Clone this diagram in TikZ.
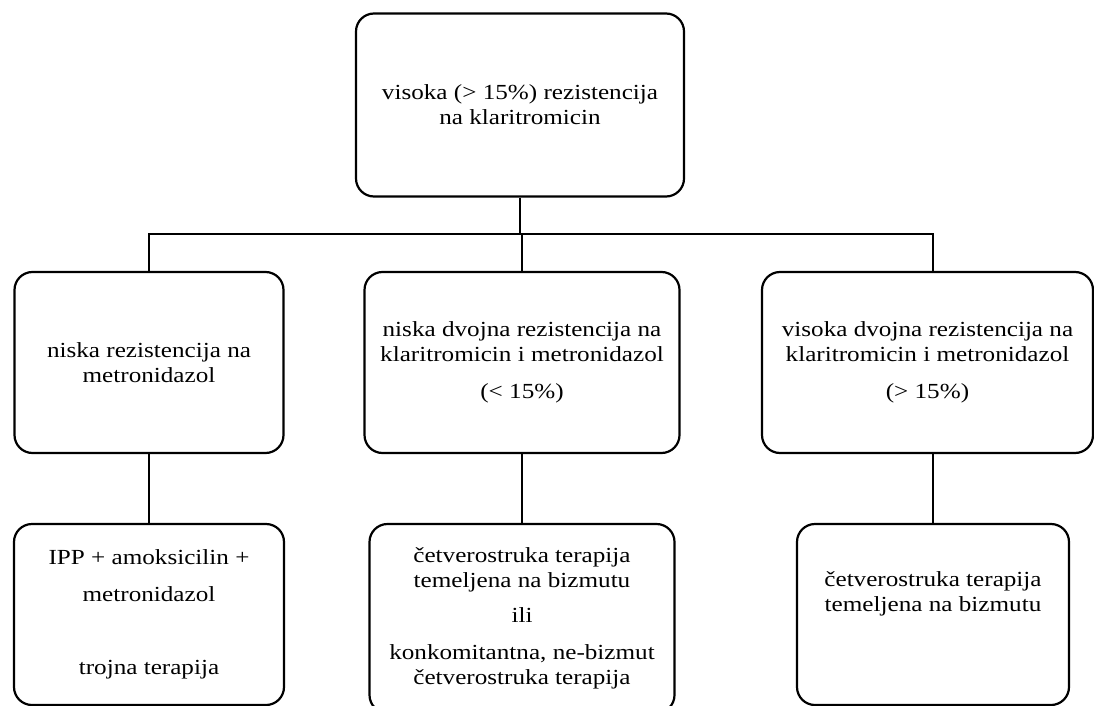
\documentclass[tikz,border=0pt]{standalone}
\usepackage{fontspec}
\setmainfont{Liberation Serif}[FakeStretch=1.17]

\begin{document}
\begin{tikzpicture}[x=1pt,y=-1pt]
\tikzstyle{box} = [rectangle, rounded corners=18pt, draw=black, line width=2.2pt, align=center, inner sep=0pt, font=\fontsize{21.5}{25}\selectfont]
\tikzstyle{link} = [draw=black, line width=2.2pt]

\useasboundingbox (0,0) rectangle (1094,706);

\node(highClari) [box, minimum width=328pt, minimum height=183pt] at (520,105) {visoka (> 15\%) rezistencija\\na klaritromicin};
\node(lowMetro) [box, minimum width=269pt, minimum height=181pt] at (149,362.5) {niska rezistencija na\\metronidazol};
\node(lowDual) [box, minimum width=315pt, minimum height=181pt] at (522,362.5) {niska dvojna rezistencija na\\klaritromicin i metronidazol\\[12pt](< 15\%)};
\node(highDual) [box, minimum width=331pt, minimum height=181pt] at (927.5,362.5) {visoka dvojna rezistencija na\\klaritromicin i metronidazol\\[12pt](> 15\%)};
\node(tripleTherapy) [box, minimum width=270pt, minimum height=181pt] at (149,614.5) {IPP + amoksicilin +\\[12pt]metronidazol\\[48pt]trojna terapija};
\node(bismuthOrConcomitant) [box, minimum width=305pt, minimum height=189pt] at (522,618.5) {četverostruka terapija\\temeljena na bizmutu\\[10pt]ili\\[12pt]konkomitantna, ne-bizmut\\četverostruka terapija};
\node(bismuthQuad) [box, minimum width=272pt, minimum height=181pt] at (933,614.5) {četverostruka terapija\\temeljena na bizmutu\\[20pt]\mbox{}};

\coordinate (bus) at (520,234);
\draw[link] (highClari) -- (bus);
\draw[link] (lowMetro.north) |- (bus) -| (highDual.north -| bismuthQuad);
\draw[link] (lowDual) -- (lowDual |- bus);
\draw[link] (lowMetro) -- (tripleTherapy);
\draw[link] (lowDual) -- (bismuthOrConcomitant);
\draw[link] (bismuthQuad) -- (bismuthQuad |- highDual.south);
\end{tikzpicture}
\end{document}
